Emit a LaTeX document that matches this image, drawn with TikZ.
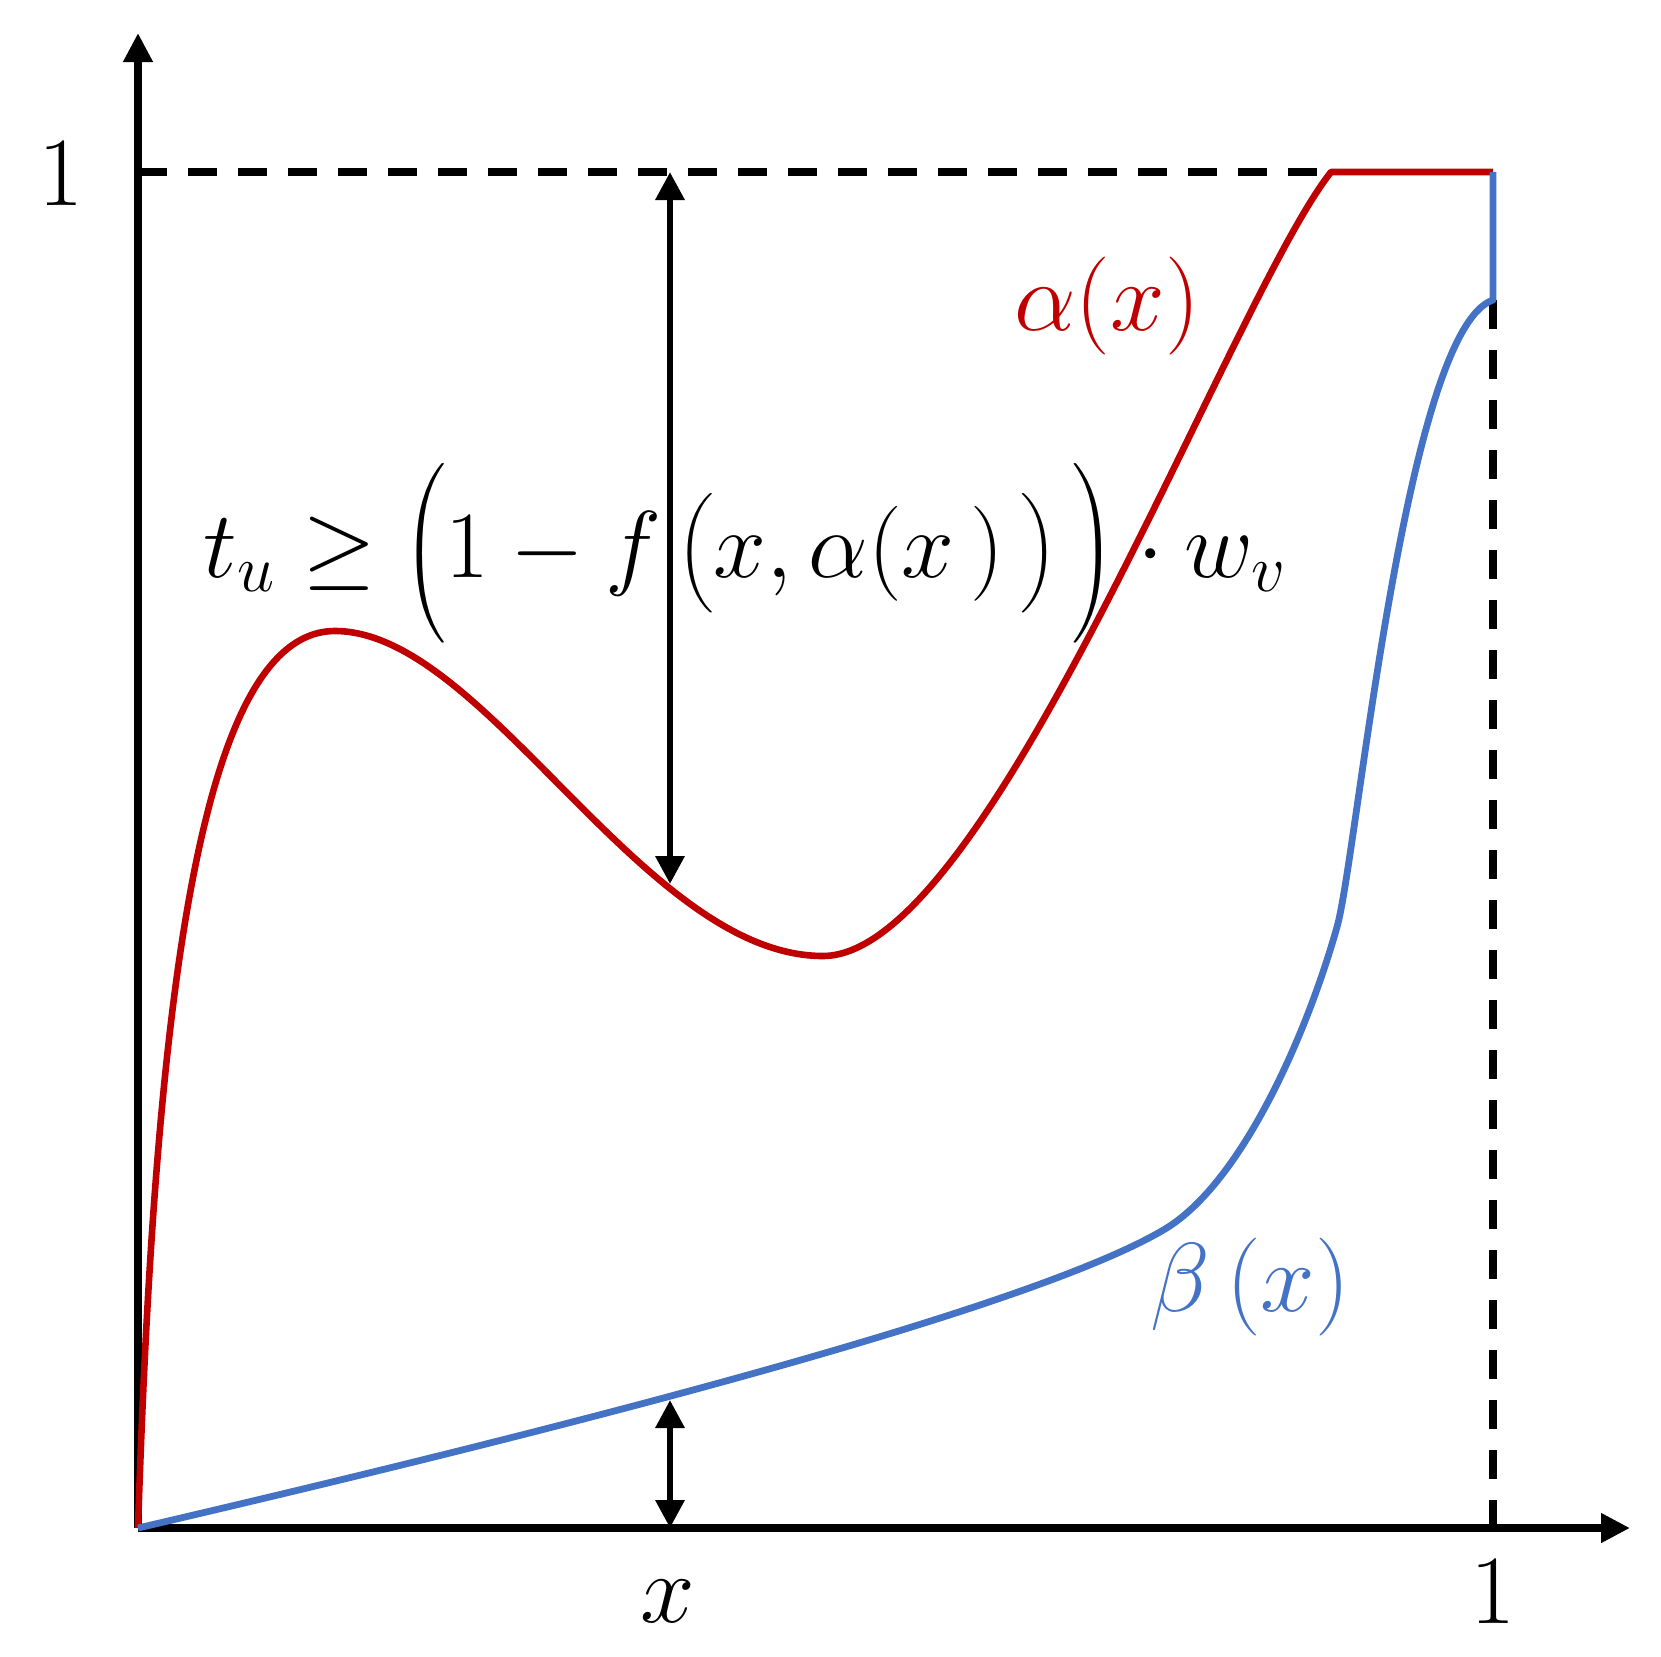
\RequirePackage{fix-cm}
\documentclass[tikz,border=0pt]{standalone}
\usepackage{amsmath}
\usetikzlibrary{arrows.meta}
\definecolor{ared}{HTML}{C00000}
\definecolor{bblue}{HTML}{4472C4}
\begin{document}
\begin{tikzpicture}[x=0.5pt,y=-0.5pt,
  axisline/.style={line width=3.8pt,-{Triangle[length=14.5pt,width=14pt]}},
  guide/.style={line width=3.8pt,dash pattern=on 14.5pt off 10.5pt},
  redcurve/.style={ared,line width=3.3pt,line join=round},
  bluecurve/.style={bblue,line width=3.4pt,line join=round},
  gaparrow/.style={line width=3.2pt,{Triangle[length=14pt,width=14pt]}-{Triangle[length=14pt,width=14pt]}},
  lbl/.style={inner sep=0pt,font=\fontsize{49}{59}\selectfont},
  formula/.style={inner sep=0pt,font=\fontsize{47.5}{57}\selectfont},
  ]
\useasboundingbox (0,0) rectangle (1661,1656);
% coordinates
\coordinate (O) at (138,1528);
\coordinate (ytip) at (138,33);
\coordinate (xtip) at (1630,1528);
\coordinate (top1) at (138,172);
\coordinate (redend) at (1331,172);
\coordinate (corner) at (1493,172);
\coordinate (bluetop) at (1493,300);
\coordinate (xone) at (1493,1528);
\coordinate (aTop) at (670,172);
\coordinate (aBot) at (670,884);
\coordinate (bTop) at (670,1400);
\coordinate (bBot) at (670,1528);
% guides
\draw[guide] (top1) -- (redend);
\draw[guide] (bluetop) -- (xone);
% axes
\draw[axisline] (O) -- (ytip);
\draw[axisline] (O) -- (xtip);
% alpha curve
\draw[redcurve] (O) .. controls (155,1000) and (200,631) .. (335,631)
  .. controls (485,631) and (643,956) .. (823,956)
  .. controls (990,956) and (1230,300) .. (redend) -- (corner);
% beta curve
\draw[bluecurve] (O) .. controls (438,1458) and (1015,1319) .. (1165,1229)
  .. controls (1240,1184) and (1305,1040) .. (1337,927)
  .. controls (1357,857) and (1405,330) .. (bluetop) -- (corner);
% gap arrows
\draw[gaparrow] (aTop) -- (aBot);
\draw[gaparrow] (bTop) -- (bBot);
% labels
\node[lbl,anchor=base] (oney) at (61,205) {$1$};
\node[lbl,anchor=base] (onex) at (1493,1623) {$1$};
\node[lbl,anchor=base] (xlab) at (668,1622) {$x$};
\node[lbl,anchor=base,text=ared] (alab) at (1107,330) {$\alpha(x)$};
\node[lbl,anchor=base,text=bblue] (blab) at (1250,1311) {$\beta\,(x)$};
\node[formula,anchor=base] (form) at (745,577) {$t_u \geq \Big(1 - f\,\big(x,\alpha(x\,)\,\big)\,\Big)\cdot w_v$};
\end{tikzpicture}
\end{document}
